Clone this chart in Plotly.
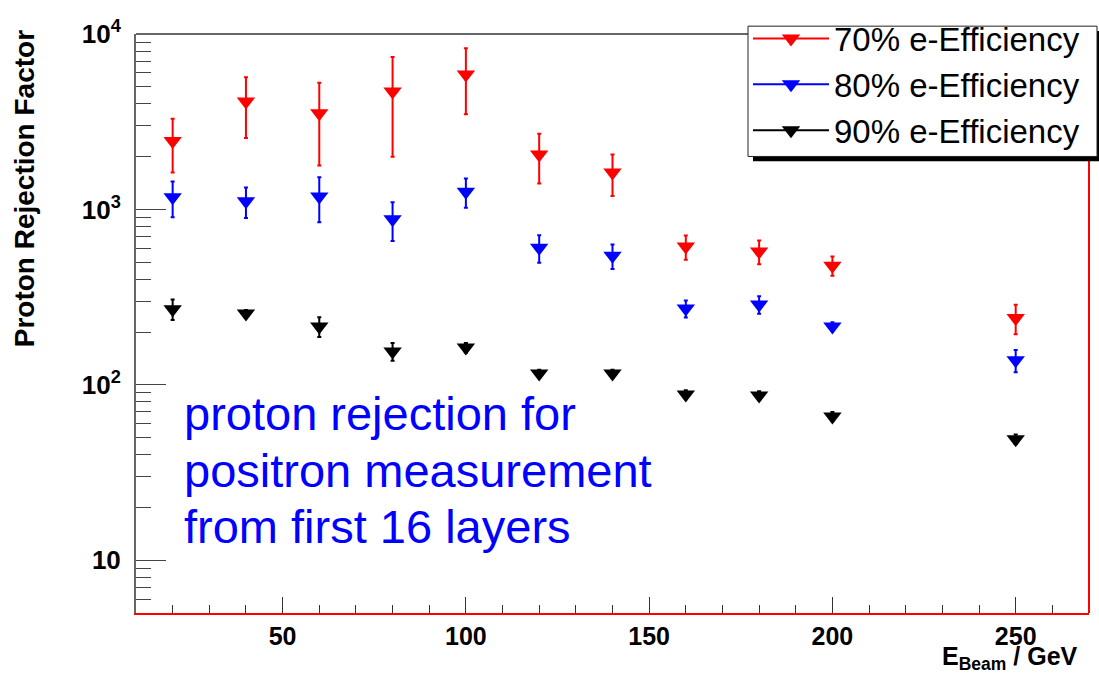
import plotly.graph_objects as go
import numpy as np

# ---- data ----
e_beam = [20, 40, 60, 80, 100, 120, 140, 160, 180, 200, 250]

eff70 = [2455, 4117, 3529, 4699, 5882, 2053, 1624, 614, 576, 478, 240]
eff70_err = [830, 1560, 1750, 2700, 2400, 650, 430, 97, 89, 60, 46]

eff80 = [1171, 1112, 1186, 880, 1261, 605, 544, 272, 287, 215, 138]
eff80_err = [270, 220, 340, 220, 240, 108, 86, 30, 33, 12, 20]

eff90 = [270, 255, 215, 155, 163, 116, 116, 88, 87, 66, 49]
eff90_err = [36, 12, 28, 18, 10, 6, 6, 5, 5, 4, 3]

series_names = ["70% e-Efficiency", "80% e-Efficiency", "90% e-Efficiency"]
series_colors = ["#ff0000", "#0000ff", "#000000"]

y_tickvals = [10, 100, 1000, 10000]
y_ticktext = ["10", "10<sup>2</sup>", "10<sup>3</sup>", "10<sup>4</sup>"]
x_tickvals = [50, 100, 150, 200, 250]
x_ticktext = ["50", "100", "150", "200", "250"]

note_lines = ["proton rejection for", "positron measurement", "from first 16 layers"]

FONT = "Liberation Sans, Arial, Helvetica, sans-serif"

W, H = 1099, 673
L, R, T, B = 136, 10, 22, 60
PW, PH = W - L - R, H - T - B


def px_x(p):
    return (p - L) / PW


def px_y(p):
    return (H - B - p) / PH


fig = go.Figure()

for vals, errs, name, col in zip([eff70, eff80, eff90],
                                 [eff70_err, eff80_err, eff90_err],
                                 series_names, series_colors):
    fig.add_trace(go.Scatter(
        x=e_beam, y=vals, mode="markers", showlegend=False,
        marker=dict(symbol="triangle-down", size=16, color=col, line=dict(width=0)),
        error_y=dict(type="data", array=errs, visible=True, color=col,
                     thickness=2, width=2),
    ))
    # legend entry (line + marker)
    fig.add_trace(go.Scatter(
        x=[None], y=[None], mode="lines+markers", name=name,
        line=dict(color=col, width=2),
        marker=dict(symbol="triangle-down", size=16, color=col),
    ))

fig.update_layout(
    width=W, height=H,
    margin=dict(l=L, r=R, t=T, b=B, pad=0),
    paper_bgcolor="white", plot_bgcolor="white",
    font=dict(family=FONT, color="black"),
    showlegend=True,
    legend=dict(
        x=px_x(748), y=px_y(-2), xanchor="left", yanchor="top",
        bgcolor="rgba(0,0,0,0)", borderwidth=0,
        font=dict(family=FONT, size=33, color="black"),
        itemwidth=76, traceorder="normal",
    ),
)

fig.update_xaxes(
    range=[10, 270], showgrid=False, zeroline=False,
    showline=True, linecolor="#ff0000", linewidth=2,
    ticks="inside", ticklen=16, tickwidth=1, tickcolor="#333",
    tickvals=x_tickvals, ticktext=x_ticktext,
    tickfont=dict(family=FONT, size=25, color="black", weight="bold"),
    minor=dict(ticks="inside", ticklen=8, tickwidth=1, tickcolor="#333",
               dtick=10, tick0=0, showgrid=False),
)

fig.update_yaxes(
    type="log", range=[np.log10(5), 4], showgrid=False, zeroline=False,
    showline=True, linecolor="#666", linewidth=2,
    ticks="inside", ticklen=30, tickwidth=1, tickcolor="#444",
    tickvals=y_tickvals, ticktext=y_ticktext,
    tickfont=dict(family=FONT, size=26, color="black", weight="bold"),
    ticklabelstandoff=8,
    minor=dict(ticks="inside", ticklen=15, tickwidth=1, tickcolor="#444",
               dtick="D1", showgrid=False),
)

# frame: top grey, right red
fig.add_shape(type="line", xref="paper", yref="paper", x0=0, x1=1, y0=1, y1=1,
              line=dict(color="#666", width=2))
fig.add_shape(type="line", xref="paper", yref="paper", x0=1, x1=1, y0=0, y1=1,
              line=dict(color="#ff0000", width=2))

# legend shadow and box
fig.add_shape(type="rect", xref="paper", yref="paper",
              x0=px_x(753), x1=px_x(1104), y0=px_y(152), y1=px_y(19),
              fillcolor="black", line=dict(width=0), layer="above")
fig.add_shape(type="rect", xref="paper", yref="paper",
              x0=px_x(748), x1=px_x(1097), y0=px_y(147), y1=px_y(14),
              fillcolor="white", line=dict(color="#222", width=1), layer="above")

# y-axis title
fig.add_annotation(
    text="<b>Proton Rejection Factor</b>", textangle=-90,
    xref="paper", yref="paper", x=px_x(24.5), y=px_y(180),
    xanchor="center", yanchor="middle", showarrow=False,
    font=dict(family=FONT, size=28, color="black"),
)

# x-axis title
fig.add_annotation(
    text="<b>E<sub>Beam</sub> / GeV</b>",
    xref="paper", yref="paper", x=px_x(1080), y=px_y(641),
    xanchor="right", yanchor="top", showarrow=False,
    font=dict(family=FONT, size=25, color="black"),
)

# blue note, one line each
note_tops = [380, 438, 496]
for line_text, top in zip(note_lines, note_tops):
    fig.add_annotation(
        text=line_text,
        xref="paper", yref="paper", x=px_x(182), y=px_y(top),
        xanchor="left", yanchor="top", align="left", showarrow=False,
        font=dict(family=FONT, size=47, color="#0000ff"),
    )

fig.write_html("out.html")
